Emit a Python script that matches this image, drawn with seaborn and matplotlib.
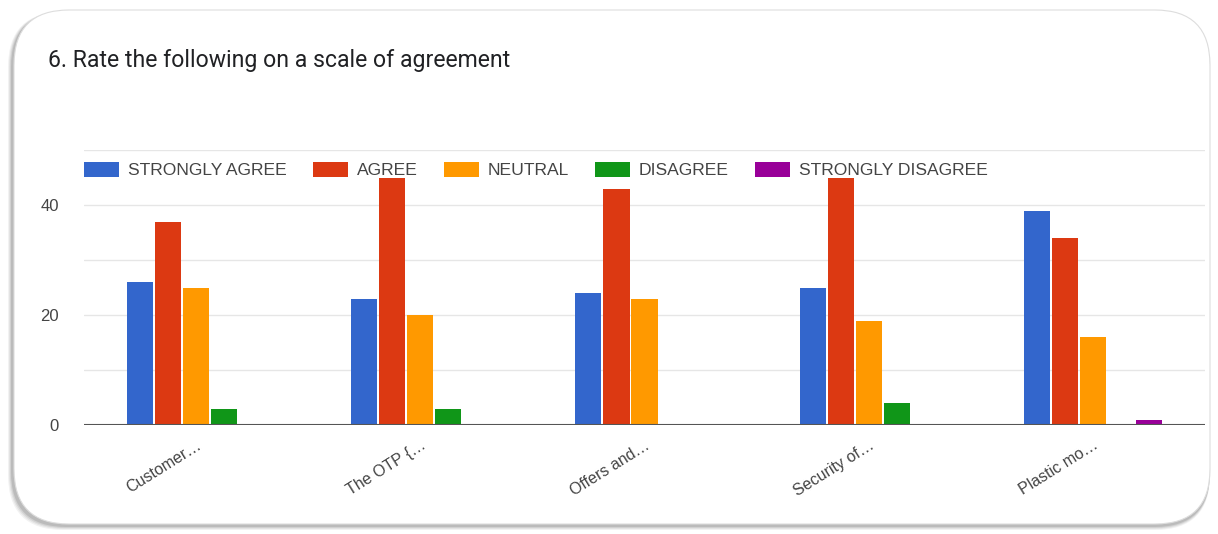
import matplotlib
matplotlib.use("Agg")
import matplotlib.pyplot as plt
from matplotlib.patches import FancyBboxPatch
import seaborn as sns
import pandas as pd

categories = ["Customer…", "The OTP {…", "Offers and…", "Security of…", "Plastic mo…"]
series_names = ["STRONGLY AGREE", "AGREE", "NEUTRAL", "DISAGREE", "STRONGLY DISAGREE"]
strongly_agree = [26, 23, 24, 25, 39]
agree = [37, 45, 43, 45, 34]
neutral = [25, 20, 23, 19, 16]
disagree = [3, 3, 0, 4, 0]
strongly_disagree = [0, 0, 0, 0, 1]
colors = ["#3366cc", "#dc3912", "#ff9900", "#109618", "#990099"]
title = "6. Rate the following on a scale of agreement"

rows = []
for name, vals in zip(series_names, [strongly_agree, agree, neutral, disagree, strongly_disagree]):
    for c, v in zip(categories, vals):
        rows.append({"category": c, "series": name, "value": v})
df = pd.DataFrame(rows)

sns.set_theme(style="white")
plt.rcParams["font.family"] = ["Liberation Sans", "DejaVu Sans"]

W, H = 1218, 534
fig = plt.figure(figsize=(W / 100, H / 100), dpi=100)
fig.patch.set_facecolor("white")

# card with soft shadow
bg = fig.add_axes([0, 0, 1, 1], zorder=-10)
bg.set_xlim(0, W)
bg.set_ylim(H, 0)
bg.axis("off")
for i, a in enumerate([0.05, 0.06, 0.08, 0.10]):
    off = 4 - i
    bg.add_patch(FancyBboxPatch((12 - off, 12 + 0), 1198 + off, 514 + off,
                                boxstyle="round,pad=0,rounding_size=55",
                                facecolor="#000000", edgecolor="none", alpha=a))
bg.add_patch(FancyBboxPatch((14, 10), 1196, 514,
                            boxstyle="round,pad=0,rounding_size=55",
                            facecolor="white", edgecolor="#dddddd", linewidth=0.8))

fig.text(48 / W, 1 - 60 / H, title, fontsize=16.6, color="#202124",
         va="center", ha="left", family=["Roboto", "DejaVu Sans"])

ax = fig.add_axes([84 / W, 1 - 425 / H, (1205 - 84) / W, (425 - 150) / H])
ax.set_facecolor("none")
sns.barplot(data=df, x="category", y="value", hue="series", hue_order=series_names,
            order=categories, palette=colors, saturation=1, width=0.625, gap=0.07,
            linewidth=0, ax=ax, legend=True, zorder=3)

ax.set_ylim(0, 50)
ax.set_xlim(-0.5, 4.5)
ax.set_yticks([0, 20, 40])
ax.set_yticks([10, 30, 50], minor=True)
ax.grid(True, axis="y", which="both", color="#e6e6e6", linewidth=1, zorder=0)
ax.set_axisbelow(True)
ax.axhline(0, color="#555555", linewidth=1.5, zorder=5)
for s in ax.spines.values():
    s.set_visible(False)
ax.set_xlabel("")
ax.set_ylabel("")
ax.tick_params(axis="y", which="both", length=0, pad=18, labelsize=12, labelcolor="#444444")
ax.tick_params(axis="x", length=0, pad=9, labelsize=11.5, labelcolor="#444444")
for lab in ax.get_xticklabels():
    lab.set_rotation(32)
    lab.set_ha("right")
    lab.set_rotation_mode("anchor")
for lab in ax.get_yticklabels():
    lab.set_ha("right")

leg = ax.legend(loc="center left", bbox_to_anchor=(0.0, 0.927), ncol=5, frameon=False,
                fontsize=12.6, handlelength=2.0, handleheight=1.0, handletextpad=0.5,
                columnspacing=1.5, borderaxespad=0, borderpad=0)
for t in leg.get_texts():
    t.set_color("#444444")

fig.savefig("out.png", dpi=100, facecolor="white")
